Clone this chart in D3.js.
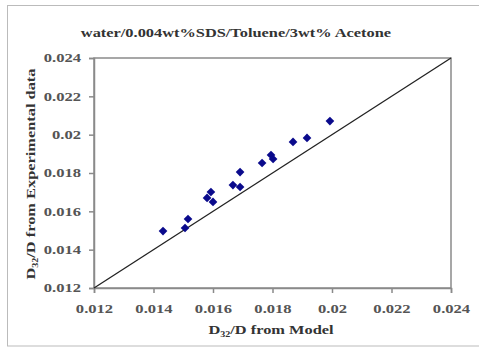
<!DOCTYPE html>
<html>
<head>
<meta charset="utf-8">
<script src="https://cdn.jsdelivr.net/npm/d3@7"></script>
<style>
  body { margin: 0; background: #fff; }
  svg text { font-family: "Liberation Serif", "Times New Roman", serif; font-weight: bold; }
  /* the reference glyphs look horizontally stretched */
  .sx { transform-box: fill-box; transform-origin: center; transform: scaleX(1.26); }
  .sxr { transform-box: fill-box; transform-origin: right center; transform: scaleX(1.38); }
  .sxc { transform-box: fill-box; transform-origin: center; transform: scaleX(1.38); }
</style>
</head>
<body>
<div id="chart"></div>
<script>
// data
var modelVals = [0.01432, 0.01506, 0.01516, 0.01580, 0.01593, 0.01600, 0.01667, 0.01691,
                 0.01691, 0.01765, 0.01795, 0.01802, 0.01869, 0.01916, 0.01993];
var expVals   = [0.01497, 0.01513, 0.01560, 0.01670, 0.01701, 0.01649, 0.01737, 0.01805,
                 0.01727, 0.01852, 0.01894, 0.01873, 0.01962, 0.01983, 0.02071];
var tickVals  = [0.012, 0.014, 0.016, 0.018, 0.02, 0.022, 0.024];
var tickLabels = ["0.012", "0.014", "0.016", "0.018", "0.02", "0.022", "0.024"];
var diagonal  = [0.012, 0.024];

var W = 479, H = 347;
var margin = {top: 58, right: 28, bottom: 59, left: 94},
    width = W - margin.left - margin.right,
    height = H - margin.top - margin.bottom;

var svg = d3.select("#chart").append("svg")
    .attr("width", W)
    .attr("height", H);

// outer chart frame
svg.append("rect")
    .attr("x", 7.5).attr("y", 5.5)
    .attr("width", W).attr("height", H - 6.5)
    .attr("fill", "none")
    .attr("stroke", "#bbb");

var g = svg.append("g")
    .attr("transform", "translate(" + margin.left + "," + margin.top + ")");

var x = d3.scaleLinear().domain([0.012, 0.024]).range([0, width]);
var y = d3.scaleLinear().domain([0.012, 0.024]).range([height, 0]);

// plot area box
g.append("rect")
    .attr("x", 0).attr("y", 0)
    .attr("width", width).attr("height", height)
    .attr("fill", "none")
    .attr("stroke", "#8a8a8a")
    .attr("stroke-width", 1.5);

var fmt = function(d, i) { return tickLabels[i]; };

var xAxis = g.append("g")
    .attr("transform", "translate(0," + height + ")")
    .call(d3.axisBottom(x).tickValues(tickVals).tickFormat(fmt).tickSize(5).tickPadding(11));

var yAxis = g.append("g")
    .call(d3.axisLeft(y).tickValues(tickVals).tickFormat(fmt).tickSize(5).tickPadding(8));

[xAxis, yAxis].forEach(function(a) {
    a.select(".domain").attr("stroke", "#8a8a8a").attr("stroke-width", 1.5);
    a.selectAll(".tick line").attr("stroke", "#8a8a8a").attr("stroke-width", 1.5);
    a.selectAll(".tick text")
        .attr("fill", "#555")
        .style("font-size", "12px")
        .style("font-family", "'Liberation Serif', serif")
        .style("font-weight", "bold");
});
xAxis.selectAll(".tick text").attr("class", "sxc");
yAxis.selectAll(".tick text").attr("class", "sxr");

// 1:1 line
g.append("line")
    .attr("x1", x(diagonal[0])).attr("y1", y(diagonal[0]))
    .attr("x2", x(diagonal[1])).attr("y2", y(diagonal[1]))
    .attr("stroke", "#222")
    .attr("stroke-width", 1.3);

// points
var pts = modelVals.map(function(d, i) { return {m: d, e: expVals[i]}; });
g.selectAll(".pt")
    .data(pts)
    .enter().append("path")
    .attr("class", "pt")
    .attr("d", d3.symbol().type(d3.symbolDiamond2).size(48))
    .attr("transform", function(d) { return "translate(" + x(d.m) + "," + y(d.e) + ")"; })
    .attr("fill", "#0a0a8c");

// title
svg.append("text")
    .attr("class", "sx")
    .attr("x", 236).attr("y", 37)
    .attr("text-anchor", "middle")
    .attr("fill", "#333")
    .style("font-size", "13px")
    .text("water/0.004wt%SDS/Toluene/3wt% Acetone");

// x axis title
var xt = svg.append("text")
    .attr("class", "sx")
    .attr("x", 271).attr("y", 334)
    .attr("text-anchor", "middle")
    .attr("fill", "#333")
    .style("font-size", "13px");
xt.append("tspan").text("D");
xt.append("tspan").attr("dy", 3).style("font-size", "8px").text("32");
xt.append("tspan").attr("dy", -3).text("/D from Model");

// y axis title
var yt = svg.append("g")
    .attr("transform", "translate(35,174) rotate(-90)")
    .append("text")
    .attr("class", "sx")
    .attr("text-anchor", "middle")
    .attr("fill", "#333")
    .style("font-size", "13px");
yt.append("tspan").text("D");
yt.append("tspan").attr("dy", 3).style("font-size", "8px").text("32");
yt.append("tspan").attr("dy", -3).text("/D from Experimental data");
</script>
</body>
</html>
